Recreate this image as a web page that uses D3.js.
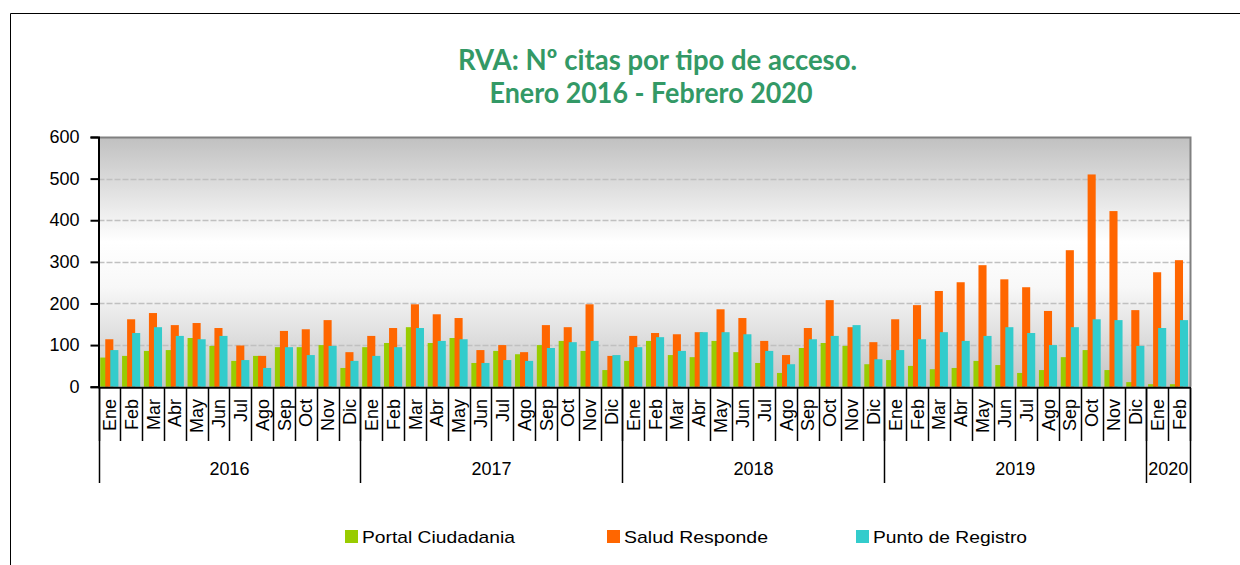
<!DOCTYPE html>
<html lang="es">
<head>
<meta charset="UTF-8">
<title>RVA citas por tipo de acceso</title>
<script src="https://cdn.jsdelivr.net/npm/d3@7"></script>
<style>
  body { margin: 0; background: #fff; font-family: "Liberation Sans", Arial, sans-serif; }
  svg { display: block; }
</style>
</head>
<body>
<div id="chart"></div>
<script>
// data
var months = ["Ene","Feb","Mar","Abr","May","Jun","Jul","Ago","Sep","Oct","Nov","Dic"];
var years = [
  { label: "2016", n: 12 },
  { label: "2017", n: 12 },
  { label: "2018", n: 12 },
  { label: "2019", n: 12 },
  { label: "2020", n: 2 }
];
var portal = [70,74,86,88,117,98,62,74,95,95,100,45,
              95,105,143,105,117,57,86,78,100,110,86,40,
              62,110,76,71,110,83,57,33,93,105,98,54,
              64,50,42,45,62,52,33,40,71,88,40,11,
              6,6];
var salud = [114,162,177,148,153,141,99,74,134,138,160,83,
             122,141,198,174,165,88,100,83,148,143,198,74,
             122,129,126,131,186,165,110,76,141,208,143,107,
             162,196,230,251,292,258,239,182,328,510,422,184,
             275,304];
var punto = [88,129,143,122,114,122,64,45,95,76,98,62,
             74,95,141,110,114,57,64,62,93,107,110,76,
             95,119,86,131,131,126,86,54,114,122,148,66,
             88,114,131,110,122,143,129,100,143,162,160,98,
             141,160];
var seriesNames = ["Portal Ciudadania", "Salud Responde", "Punto de Registro"];
var colors = ["#99cc00", "#ff6600", "#33cccc"];
var yTicks = [0,100,200,300,400,500,600];

var W = 1240, H = 565;
var pLeft = 98.5, pRight = 1190, pTop = 137, pBottom = 386.7;

var labels = [];
years.forEach(function (y) {
  for (var i = 0; i < y.n; i++) labels.push(months[i]);
});

var svg = d3.select("#chart").append("svg")
  .attr("width", W).attr("height", H);

// outer frame (cut off right/bottom like the original)
svg.append("path")
  .attr("d", "M10.5," + H + "V13.5H" + W)
  .attr("fill", "none").attr("stroke", "#000").attr("stroke-width", 1);

var defs = svg.append("defs");
var grad = defs.append("linearGradient").attr("id", "bg")
  .attr("x1", 0).attr("y1", 0).attr("x2", 0).attr("y2", 1);
grad.append("stop").attr("offset", "0%").attr("stop-color", "#c0c0c0");
grad.append("stop").attr("offset", "42%").attr("stop-color", "#ffffff");
grad.append("stop").attr("offset", "60%").attr("stop-color", "#f8f8f8");
grad.append("stop").attr("offset", "100%").attr("stop-color", "#c4c4c4");

var x = d3.scaleBand().domain(d3.range(labels.length)).range([pLeft, pRight]).padding(0);
var y = d3.scaleLinear().domain([0, 600]).range([pBottom, pTop]);
var bw = x.bandwidth();

// plot background
svg.append("rect")
  .attr("x", pLeft).attr("y", pTop)
  .attr("width", pRight - pLeft).attr("height", pBottom - pTop)
  .attr("fill", "url(#bg)");

// gridlines
svg.append("g").selectAll("line")
  .data(yTicks.filter(function (d) { return d > 0 && d < 600; }))
  .enter().append("line")
  .attr("x1", pLeft).attr("x2", pRight)
  .attr("y1", function (d) { return Math.round(y(d)) + 0.5; })
  .attr("y2", function (d) { return Math.round(y(d)) + 0.5; })
  .attr("stroke", "#c0c0c0").attr("stroke-width", 1.3)
  .attr("stroke-dasharray", "6,2");

// top and right border
svg.append("path")
  .attr("d", "M" + pLeft + "," + (pTop + 0.5) + "H" + (pRight + 0.5) + "V" + pBottom)
  .attr("fill", "none").attr("stroke", "#808080").attr("stroke-width", 2);

// bars
var series = [portal, salud, punto];
series.forEach(function (vals, k) {
  svg.append("g").selectAll("rect")
    .data(vals)
    .enter().append("rect")
    .attr("x", function (d, i) { return x(i) + bw * (0.08 + k * 0.23); })
    .attr("width", bw * 0.37)
    .attr("y", function (d) { return y(d); })
    .attr("height", function (d) { return y(0) - y(d); })
    .attr("fill", colors[k]);
});

// y axis
var yAxis = svg.append("g")
  .attr("transform", "translate(" + pLeft + ",0)")
  .call(d3.axisLeft(y).tickValues(yTicks).tickSize(8).tickPadding(11).tickFormat(d3.format("d")));
yAxis.select(".domain").attr("stroke", "#000").attr("stroke-width", 2);
yAxis.selectAll(".tick line").attr("stroke", "#000").attr("stroke-width", 2);
yAxis.selectAll("text").attr("font-size", 18).attr("fill", "#000")
  .attr("font-family", "'Liberation Sans', Arial, sans-serif");

// baseline
svg.append("line")
  .attr("x1", pLeft).attr("x2", pRight + 1)
  .attr("y1", pBottom + 1).attr("y2", pBottom + 1)
  .attr("stroke", "#000").attr("stroke-width", 2);

// month separators and labels
var cat = svg.append("g");
cat.selectAll("line")
  .data(d3.range(labels.length + 1))
  .enter().append("line")
  .attr("x1", function (i) { return Math.round(pLeft + i * bw) + 0.5; })
  .attr("x2", function (i) { return Math.round(pLeft + i * bw) + 0.5; })
  .attr("y1", pBottom + 1)
  .attr("y2", 441)
  .attr("stroke", "#000").attr("stroke-width", 1.5);

cat.selectAll("text")
  .data(labels)
  .enter().append("text")
  .attr("transform", function (d, i) {
    return "translate(" + (x(i) + bw / 2 + 6.5) + ",399) rotate(-90)";
  })
  .attr("text-anchor", "end")
  .attr("font-size", 18)
  .attr("fill", "#000")
  .text(function (d) { return d; });

// year separators and labels
var start = 0, yearPos = [];
years.forEach(function (yy) {
  yearPos.push({ label: yy.label, a: start, b: start + yy.n });
  start += yy.n;
});
var yr = svg.append("g");
yr.selectAll("line")
  .data([0].concat(yearPos.map(function (d) { return d.b; })))
  .enter().append("line")
  .attr("x1", function (i) { return Math.round(pLeft + i * bw) + 0.5; })
  .attr("x2", function (i) { return Math.round(pLeft + i * bw) + 0.5; })
  .attr("y1", pBottom + 1).attr("y2", 483)
  .attr("stroke", "#000").attr("stroke-width", 1.5);
yr.selectAll("text")
  .data(yearPos)
  .enter().append("text")
  .attr("x", function (d) { return pLeft + (d.a + d.b) / 2 * bw; })
  .attr("y", 475)
  .attr("text-anchor", "middle")
  .attr("font-size", 18)
  .attr("fill", "#000")
  .text(function (d) { return d.label; });

// title
var title = svg.append("text")
  .attr("text-anchor", "middle")
  .attr("font-family", "Lato, 'Open Sans', sans-serif")
  .attr("font-weight", "bold").attr("font-size", 29)
  .attr("fill", "#339966");
title.append("tspan").attr("x", 657.5).attr("y", 70)
  .attr("textLength", 399).attr("lengthAdjust", "spacingAndGlyphs")
  .text("RVA: Nº citas por tipo de acceso.");
title.append("tspan").attr("x", 651).attr("y", 103)
  .attr("textLength", 323).attr("lengthAdjust", "spacingAndGlyphs")
  .text("Enero 2016 - Febrero 2020");

// legend
var legendX = [345, 607, 856];
var legendW = [153, 144, 154];
var lg = svg.append("g").selectAll("g")
  .data(seriesNames)
  .enter().append("g")
  .attr("transform", function (d, i) { return "translate(" + legendX[i] + ",530)"; });
lg.append("rect").attr("width", 13).attr("height", 13)
  .attr("fill", function (d, i) { return colors[i]; });
lg.append("text").attr("x", 17).attr("y", 13)
  .attr("font-size", 17).attr("fill", "#000")
  .attr("textLength", function (d, i) { return legendW[i]; })
  .attr("lengthAdjust", "spacingAndGlyphs")
  .text(function (d) { return d; });
</script>
</body>
</html>
